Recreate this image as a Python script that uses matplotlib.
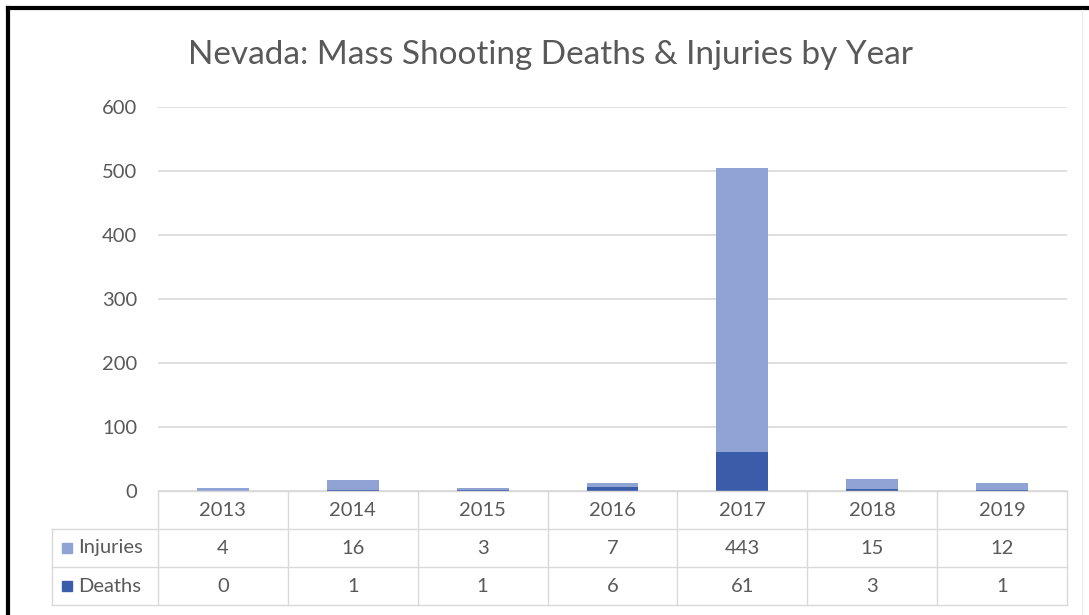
import matplotlib
matplotlib.use("Agg")
import matplotlib.pyplot as plt
from matplotlib.lines import Line2D
from matplotlib.patches import Rectangle

years = ["2013", "2014", "2015", "2016", "2017", "2018", "2019"]
injuries = [4, 16, 3, 7, 443, 15, 12]
deaths = [0, 1, 1, 6, 61, 3, 1]
yticks = [0, 100, 200, 300, 400, 500, 600]
title = "Nevada: Mass Shooting Deaths & Injuries by Year"

C_INJ = "#8FA3D5"
C_DEA = "#3B5CA8"
GRID = "#D9D9D9"
TXT = "#595959"
FONT = ["Lato", "DejaVu Sans"]
plt.rcParams["font.family"] = FONT
FS = 14.5

W, H = 1089, 615
fig = plt.figure(figsize=(W / 100, H / 100), dpi=100)

def fx(px):
    return px / W

def fy(py):
    return 1 - py / H

# main plot
x0, x1 = 158, 1067
ytop, ybot = 107, 491
ax = fig.add_axes([fx(x0), fy(ybot), fx(x1 - x0), (ybot - ytop) / H])
xs = list(range(len(years)))
ax.bar(xs, deaths, width=0.4, color=C_DEA, zorder=3)
ax.bar(xs, injuries, width=0.4, bottom=deaths, color=C_INJ, zorder=3)
ax.set_xlim(-0.5, len(years) - 0.5)
ax.set_ylim(0, 600)
ax.set_yticks(yticks)
ax.set_yticklabels([str(v) for v in yticks])
ax.tick_params(axis="y", length=0, pad=15, labelsize=FS, labelcolor=TXT)
ax.tick_params(axis="x", length=0, labelbottom=False)
for s in ax.spines.values():
    s.set_visible(False)
ax.yaxis.grid(True, color=GRID, linewidth=1.2, zorder=0)
ax.set_axisbelow(True)

# data table
tx0 = 52
ty1 = 605
tax = fig.add_axes([fx(tx0), fy(ty1), fx(x1 - tx0), (ty1 - ybot) / H])
left = -0.5 - (x0 - tx0) / ((x1 - x0) / len(years))
tax.set_xlim(left, len(years) - 0.5)
tax.set_ylim(3, 0)
tax.axis("off")
lw = 1.0
tax.plot([-0.5, len(years) - 0.5], [0, 0], color=GRID, lw=lw, clip_on=False)
for r in (1, 2, 3):
    tax.plot([left, len(years) - 0.5], [r, r], color=GRID, lw=lw, clip_on=False)
for c in range(len(years) + 1):
    tax.plot([c - 0.5, c - 0.5], [0, 3], color=GRID, lw=lw, clip_on=False)
tax.plot([left, left], [1, 3], color=GRID, lw=lw, clip_on=False)

for i, y in enumerate(years):
    tax.text(i, 0.5, y, ha="center", va="center", fontsize=FS, color=TXT)
    tax.text(i, 1.5, str(injuries[i]), ha="center", va="center", fontsize=FS, color=TXT)
    tax.text(i, 2.5, str(deaths[i]), ha="center", va="center", fontsize=FS, color=TXT)

for r, (lab, col) in enumerate([("Injuries", C_INJ), ("Deaths", C_DEA)]):
    yc = 1.5 + r
    ky = ybot + yc * (ty1 - ybot) / 3
    fig.patches.append(Rectangle((fx(62), fy(ky + 5)), fx(10), 10 / H,
                                 transform=fig.transFigure, color=col))
    fig.text(fx(78), fy(ky), lab, ha="left", va="center", fontsize=FS, color=TXT)

# title
fig.text(fx(551), fy(55), title, ha="center", va="center", fontsize=24, color=TXT)

# outer border (left & top black)
fig.add_artist(Line2D([fx(8), fx(8)], [0, fy(8)], color="black", lw=3, transform=fig.transFigure))
fig.add_artist(Line2D([fx(8), 1], [fy(8), fy(8)], color="black", lw=3, transform=fig.transFigure))
fig.add_artist(Line2D([fx(1082), fx(1082)], [0, fy(10)], color="#EEEEEE", lw=1, transform=fig.transFigure))

fig.savefig("out.png", dpi=100)
